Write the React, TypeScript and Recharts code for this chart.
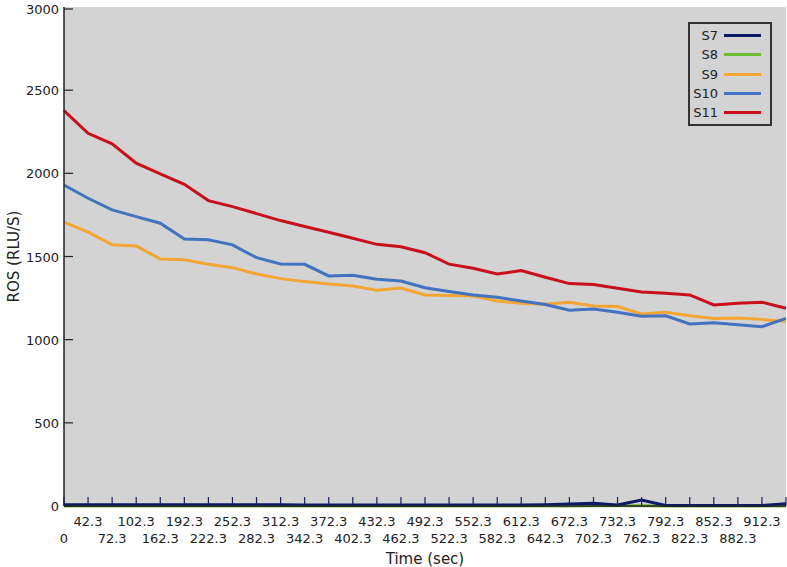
import React from 'react';
import {
  LineChart,
  Line,
  XAxis,
  YAxis,
  CartesianGrid,
} from 'recharts';

const times = [
  '0', '42.3', '72.3', '102.3', '162.3', '192.3', '222.3', '252.3', '282.3', '312.3',
  '342.3', '372.3', '402.3', '432.3', '462.3', '492.3', '522.3', '552.3', '582.3', '612.3',
  '642.3', '672.3', '702.3', '732.3', '762.3', '792.3', '822.3', '852.3', '882.3', '912.3',
  '942.3',
];

const s7 = [8, 8, 8, 8, 8, 8, 8, 8, 8, 8, 6, 6, 6, 6, 6, 6, 6, 6, 6, 6, 8, 12, 16, 6, 36, 3, 3, 3, 3, 3, 14];
const s8 = [0, 0, 0, 0, 0, 0, 0, 0, 0, 0, 0, 0, 0, 0, 0, 0, 0, 0, 0, 0, 0, 0, 2, 2, 2, 0, 0, 0, 0, 0, 0];
const s9 = [1706, 1646, 1570, 1563, 1485, 1481, 1453, 1433, 1395, 1367, 1349, 1335, 1323, 1297, 1311, 1269,
  1265, 1263, 1233, 1219, 1213, 1225, 1203, 1199, 1155, 1165, 1144, 1128, 1130, 1122, 1110];
const s10 = [1930, 1850, 1780, 1740, 1700, 1605, 1600, 1570, 1493, 1455, 1453, 1383, 1387, 1363, 1353, 1312,
  1290, 1269, 1255, 1233, 1211, 1177, 1185, 1165, 1141, 1144, 1094, 1102, 1090, 1078, 1128];
const s11 = [2377, 2241, 2177, 2061, 1997, 1934, 1836, 1800, 1758, 1716, 1680, 1646, 1610, 1573, 1559, 1523,
  1454, 1429, 1395, 1415, 1375, 1337, 1331, 1309, 1286, 1279, 1269, 1209, 1219, 1225, 1189];

const yTicks = [0, 500, 1000, 1500, 2000, 2500, 3000];

const series = [
  { key: 'S7', color: '#0c1a68' },
  { key: 'S8', color: '#6dbd32' },
  { key: 'S9', color: '#f4a533' },
  { key: 'S10', color: '#4272c0' },
  { key: 'S11', color: '#c8101c' },
];

const data = times.map((t, i) => ({
  time: t,
  S7: s7[i],
  S8: s8[i],
  S9: s9[i],
  S10: s10[i],
  S11: s11[i],
}));

const FONT = '"DejaVu Sans", sans-serif';

const XTick = ({ x, y, payload, index }: any) => {
  const showText = index < times.length - 1;
  return (
    <g>
      <line x1={x} y1={y} x2={x} y2={y - 9} stroke="#1a2060" strokeWidth={1.2} />
      {showText && (
        <text
          x={x}
          y={index % 2 === 1 ? y + 20 : y + 37}
          textAnchor="middle"
          fontSize={13}
          fontFamily={FONT}
          fill="#222"
        >
          {payload.value}
        </text>
      )}
    </g>
  );
};

const YTick = ({ x, y, payload }: any) => (
  <g>
    <line x1={x} y1={y} x2={x + 9} y2={y} stroke="#222" strokeWidth={1.2} />
    <text x={x - 5} y={y + 5} textAnchor="end" fontSize={13} fontFamily={FONT} fill="#222">
      {payload.value}
    </text>
  </g>
);

const LegendBox = () => (
  <div
    style={{
      position: 'absolute',
      left: 688,
      top: 22,
      width: 80,
      height: 98,
      border: '2px solid #333',
      background: '#d3d3d3',
      fontFamily: FONT,
      fontSize: 13,
      color: '#222',
      paddingTop: 2,
    }}
  >
    {series.map((s) => (
      <div key={s.key} style={{ display: 'flex', alignItems: 'center', height: 19.3 }}>
        <span style={{ width: 28, textAlign: 'right' }}>{s.key}</span>
        <span style={{ display: 'inline-block', marginLeft: 6, width: 37, height: 3, background: s.color }} />
      </div>
    ))}
  </div>
);

export default function App() {
  const order = ['S8', 'S7', 'S9', 'S10', 'S11'];
  return (
    <div style={{ position: 'absolute', left: 0, top: 0, width: 787, height: 567, background: '#fff' }}>
      <LineChart width={787} height={567} data={data} margin={{ top: 7, right: 1, left: 0, bottom: 0 }}>
        <CartesianGrid fill="#d3d3d3" horizontal={false} vertical={false} />
        <XAxis
          dataKey="time"
          interval={0}
          tickSize={0}
          tickMargin={0}
          tick={<XTick />}
          axisLine={{ stroke: '#222', strokeWidth: 1.5 }}
          height={61}
          label={{ value: 'Time (sec)', position: 'insideBottom', offset: 3, fontSize: 15, fontFamily: FONT, fill: '#222' }}
        />
        <XAxis xAxisId="top" dataKey="time" orientation="top" tick={false} height={0} axisLine={{ stroke: '#222', strokeWidth: 1.5 }} />
        <YAxis
          domain={[0, 3000]}
          ticks={yTicks}
          tickSize={0}
          tickMargin={0}
          tick={<YTick />}
          width={64}
          axisLine={{ stroke: '#222', strokeWidth: 1.5 }}
          label={{ value: 'ROS (RLU/S)', angle: -90, position: 'insideLeft', offset: 14, fontSize: 15, fontFamily: FONT, fill: '#222', style: { textAnchor: 'middle' } }}
        />
        <YAxis yAxisId="right" orientation="right" tick={false} width={0} axisLine={{ stroke: '#222', strokeWidth: 1.5 }} />
        {order.map((k) => {
          const s = series.find((x) => x.key === k)!;
          return (
            <Line
              key={k}
              type="linear"
              dataKey={k}
              stroke={s.color}
              strokeWidth={3}
              dot={false}
              isAnimationActive={false}
            />
          );
        })}
      </LineChart>
      <LegendBox />
    </div>
  );
}
